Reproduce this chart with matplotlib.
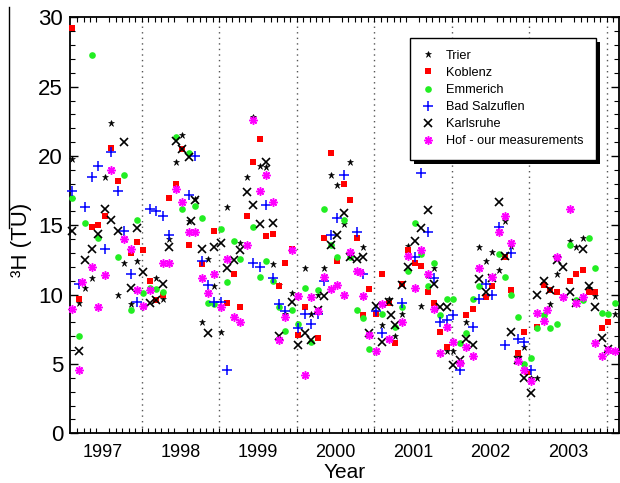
import matplotlib
matplotlib.use("Agg")
import matplotlib.pyplot as plt
import numpy as np
from matplotlib.lines import Line2D
from matplotlib.patches import Rectangle
from matplotlib.transforms import IdentityTransform
from matplotlib.ticker import MultipleLocator, FixedLocator

# ---------------- data (month index: 0 = Jan 1997) ----------------
trier_m = [1, 2, 3, 4, 6, 7, 8, 9, 10, 11,
           14, 15, 16, 17, 18, 19, 20, 21, 22, 23,
           24, 25, 27, 28, 29, 30, 31, 32, 33, 34, 35,
           37, 38, 39, 40, 41, 42, 43, 44, 46,
           49, 50, 51, 52, 53, 55, 56, 57, 59,
           60, 62, 64, 65, 66, 67, 68, 69, 70, 71,
           72, 73, 75, 76, 78, 79, 80, 81, 82, 85]
trier_v = [19.8, 9.4, 10.5, 11.2, 18.5, 22.4, 10.0, 12.3, 9.3, 12.4,
           11.2, 9.7, 14.0, 19.6, 21.5, 15.3, 16.9, 8.0, 12.6, 10.6,
           7.3, 16.3, 13.7, 18.5, 22.8, 19.3, 19.2, 12.2, 10.7, 8.6, 10.1,
           11.9, 8.6, 10.0, 11.9, 18.6, 17.9, 15.1, 19.6, 13.4,
           7.8, 9.7, 7.0, 8.6, 13.5, 9.2, 11.4, 11.9, 5.9,
           5.9, 8.0, 13.4, 12.4, 13.1, 11.8, 15.3, 13.5, 5.5, 6.2,
           4.0, 4.0, 9.3, 11.5, 13.9, 13.4, 14.1, 10.5, 9.9, 8.6]

koblenz_m = [1, 2, 4, 5, 6, 7, 8, 10, 11,
             12, 13, 14, 15, 16, 17, 18, 19, 21, 23,
             25, 26, 27, 28, 29, 30, 31, 32, 33, 34, 35,
             36, 37, 39, 40, 41, 42, 43, 44, 45, 46, 47,
             48, 49, 50, 51, 52, 53, 54, 55, 56, 57, 58, 59,
             62, 63, 65, 66, 68, 69, 70, 71, 71.6,
             73, 74, 75, 76, 78, 79, 80, 81, 82, 83, 84]
koblenz_v = [29.2, 9.7, 14.9, 15.0, 15.7, 20.6, 18.2, 13.0, 13.8,
             13.2, 11.0, 9.6, 10.0, 17.0, 18.0, 20.5, 13.6, 12.2, 14.6,
             9.4, 11.5, 9.1, 15.7, 19.6, 21.2, 14.2, 14.4, 10.6, 12.3, 13.3,
             7.1, 9.1, 6.9, 14.1, 20.2, 12.4, 18.0, 16.8, 14.1, 8.5, 10.4,
             8.6, 11.5, 9.4, 6.5, 10.8, 13.2, 12.3, 12.1, 10.2, 9.4, 7.3, 6.2,
             8.5, 9.0, 9.8, 10.6, 12.7, 10.3, 5.8, 7.3, 4.4,
             7.7, 10.7, 10.3, 10.2, 11.0, 11.5, 11.8, 10.2, 10.2, 7.6, 8.0]

emmerich_m = [1, 2, 3, 4, 5, 8, 9, 10, 11,
              12, 13, 14, 15, 17, 18, 19, 20, 21, 22, 23,
              24, 25, 26, 27, 29, 30, 31, 32, 33, 34, 35,
              36, 37, 38, 39, 40, 41, 42, 43, 44, 45, 46, 47,
              49, 51, 52, 53, 54, 55, 56, 57, 58, 59,
              60, 61, 62, 63, 64, 67, 68, 69, 70, 71,
              72, 73, 74, 75, 76, 78, 79, 80, 81, 82, 83, 84, 85]
emmerich_v = [17.0, 7.0, 15.2, 27.3, 14.1, 12.7, 18.6, 8.9, 15.4,
              10.1, 10.5, 10.4, 10.2, 21.4, 16.2, 20.2, 16.4, 15.5, 9.4, 9.3,
              14.7, 10.9, 13.9, 12.6, 14.9, 11.3, 12.4, 11.0, 9.1, 7.4, 8.9,
              7.9, 10.5, 6.6, 10.3, 16.2, 13.6, 12.7, 15.4, 12.7, 8.9, 8.3, 6.1,
              8.6, 7.7, 9.1, 11.7, 15.2, 12.9, 10.6, 12.3, 8.5, 9.7,
              9.7, 6.5, 7.2, 9.7, 10.6, 12.9, 11.3, 10.0, 8.4, 5.0,
              5.4, 7.6, 8.5, 7.6, 7.9, 13.6, 9.6, 9.6, 14.1, 11.9, 8.7, 8.6, 9.4]

salzuflen_m = [1, 2, 3, 4, 5, 6, 7, 8, 9, 10, 11,
               13, 14, 15, 16, 19, 20, 21, 22, 23,
               24, 25, 29, 30, 31, 32, 33, 34,
               36, 37, 38, 39, 40, 41, 42, 43, 45, 46,
               48, 49, 52, 54, 55, 56, 57, 58, 59,
               60, 61, 63, 64, 65, 66, 67, 68, 69, 70, 71,
               72]
salzuflen_v = [17.5, 10.8, 16.3, 18.5, 19.3, 13.3, 20.3, 17.5, 14.6, 11.5, 9.5,
               16.2, 16.0, 15.7, 14.3, 17.2, 20.0, 12.4, 10.7, 9.5,
               9.5, 4.6, 12.3, 12.0, 16.5, 11.2, 9.3, 8.8,
               7.6, 8.6, 7.9, 8.6, 11.0, 14.3, 15.5, 18.6, 14.5, 11.5,
               8.8, 7.2, 9.4, 12.7, 18.8, 14.5, 11.2, 8.0, 8.2,
               8.5, 4.6, 7.7, 9.7, 10.8, 10.0, 14.9, 6.4, 13.0, 6.8, 6.6,
               4.6]

karlsruhe_m = [1, 2, 3, 4, 5, 6, 7, 8, 9, 10, 11,
               12, 13, 14, 15, 16, 17, 18, 19, 19.4, 20, 21, 22, 23,
               24, 25, 26, 27, 28, 29, 30, 31, 32, 33, 35,
               36, 37, 38, 39, 40, 41, 42, 43, 44, 45, 46, 47,
               48, 49, 50, 50.4, 51, 52, 53, 54, 55, 56, 57, 58, 59,
               60, 61, 62, 63, 64, 65, 66, 67, 68, 69, 70, 71,
               72, 73, 74, 75, 76, 77, 78, 79, 80, 81, 82, 83, 84]
karlsruhe_v = [14.6, 5.9, 12.5, 13.3, 14.4, 16.2, 15.4, 14.6, 21.0, 10.5, 14.8,
               11.6, 9.4, 9.6, 10.8, 13.4, 21.1, 20.5, 19.9, 15.3, 16.8, 13.3, 7.2, 13.4,
               13.7, 11.9, 12.5, 13.2, 17.4, 16.5, 15.1, 19.6, 15.2, 7.0, 9.5,
               6.4, 7.2, 6.7, 8.9, 9.9, 13.6, 14.3, 15.9, 12.7, 12.6, 12.7, 7.2,
               9.2, 6.6, 9.5, 8.5, 7.8, 10.7, 12.0, 13.9, 14.8, 16.1, 10.8, 9.1, 9.1,
               4.9, 5.3, 6.8, 6.4, 11.1, 10.2, 11.2, 16.7, 12.8, 7.3, 5.3, 4.0,
               2.9, 10.0, 11.0, 10.3, 12.5, 12.0, 10.2, 9.4, 13.3, 10.6, 9.1, 6.9, 6.1]

hof_m = [1, 2, 2.5, 4, 5, 6, 7, 9, 10, 11,
         12, 13, 15, 16, 17, 18, 19, 20, 21, 22, 23,
         24, 25, 26, 27, 28, 29, 30, 31, 32, 33, 34, 35,
         36, 37, 38, 39, 40, 41, 42, 43, 44, 45, 45.6, 46, 47,
         48, 49, 50, 52, 53, 54, 55, 56, 57, 58, 59,
         60, 61, 62, 63, 64, 66, 67, 68, 69, 70, 71,
         72, 73, 74, 74.5, 76, 77, 78, 79, 80, 82, 83, 84, 85]
hof_v = [9.0, 4.6, 10.9, 12.0, 9.1, 11.4, 19.0, 14.0, 13.3, 10.3,
         9.2, 10.3, 12.3, 12.3, 17.6, 16.7, 14.5, 14.5, 11.2, 10.1, 11.5,
         9.1, 12.6, 8.4, 8.0, 13.6, 22.6, 17.5, 18.6, 16.7, 6.7, 8.4, 13.2,
         9.9, 4.2, 9.8, 8.8, 11.3, 10.4, 10.7, 10.0, 13.1, 11.7, 11.6, 9.9, 7.1,
         5.9, 9.3, 6.8, 8.0, 12.8, 10.5, 13.2, 11.5, 9.0, 5.8, 7.7,
         6.6, 5.1, 6.2, 5.6, 11.9, 11.3, 14.5, 15.7, 13.7, 5.2, 4.6,
         3.8, 8.7, 8.1, 8.9, 12.7, 9.8, 16.2, 9.4, 9.8, 6.5, 5.6, 6.0, 5.9]

series_names = ["Trier", "Koblenz", "Emmerich", "Bad Salzuflen", "Karlsruhe",
                "Hof - our measurements"]
year_labels = ["1997", "1998", "1999", "2000", "2001", "2002", "2003"]
start_year = 1997

plt.rcParams["font.family"] = ["Liberation Sans", "DejaVu Sans"]

def to_year(months):
    return start_year + (np.asarray(months, dtype=float) + 0.27) / 12.0

fig = plt.figure(figsize=(6.2, 4.83), dpi=100)
ax = fig.add_axes([70 / 620, 1 - 433.3 / 483, 549 / 620, 416 / 483])

styles = [
    dict(marker="*", color="black", ms=5.0, mew=0.4),
    dict(marker="s", color="#ff0000", ms=4.2, mew=0),
    dict(marker="o", color="#22ee22", ms=4.8, mew=0),
    dict(marker="+", color="#0000ff", ms=6.5, mew=1.1),
    dict(marker="x", color="black", ms=5.5, mew=1.2),
    dict(marker=(8, 2, 0), color="#ff00ff", ms=6.0, mew=1.1),
]
data = [(trier_m, trier_v), (koblenz_m, koblenz_v), (emmerich_m, emmerich_v),
        (salzuflen_m, salzuflen_v), (karlsruhe_m, karlsruhe_v), (hof_m, hof_v)]

handles = []
for name, (m, v), st in zip(series_names, data, styles):
    h, = ax.plot(to_year(m), v, linestyle="none", label=name, clip_on=False,
                 zorder=3, **st)
    handles.append(h)

ax.set_xlim(1997.075, 2004.16)
ax.set_ylim(0, 30)

# year separators
for yr in range(1998, 2005):
    ax.axvline(yr, color="#555555", lw=1.0, ls=(0, (1, 3)), zorder=1)

# x ticks: labels at year centres, monthly minor ticks
centers = [start_year + i + 0.5 for i in range(len(year_labels))]
ax.xaxis.set_major_locator(FixedLocator(centers))
ax.set_xticklabels(year_labels)
ax.xaxis.set_minor_locator(FixedLocator(np.arange(1997 + 2 / 12, 2004.16, 1 / 12)))
ax.tick_params(axis="x", which="major", length=0, labelsize=13, pad=8)
ax.tick_params(axis="x", which="minor", direction="in", length=3.5, width=0.8,
               top=True, bottom=True)

# y ticks
ax.yaxis.set_major_locator(MultipleLocator(5))
ax.yaxis.set_minor_locator(MultipleLocator(1))
ax.tick_params(axis="y", which="major", direction="in", length=6, width=1.0,
               left=True, right=True, labelsize=16, pad=5)
ax.tick_params(axis="y", which="minor", direction="in", length=3.5, width=0.8,
               left=True, right=True)

for sp in ax.spines.values():
    sp.set_linewidth(1.3)

ax.set_xlabel("Year", fontsize=15, labelpad=1)
fig.text(22 / 620, 1 - 240 / 483, "\u00b3H (TU)", rotation=90, fontsize=16,
         ha="center", va="center")
fig.add_artist(Line2D([9.3 / 620, 9.3 / 620], [1 - 7 / 483, 1 - 228 / 483],
                      color="black", lw=1.0, transform=fig.transFigure))

leg = ax.legend(handles=handles, loc="upper left",
                bbox_to_anchor=(0.619, 0.951), borderaxespad=0,
                fontsize=9.2, frameon=True, fancybox=False,
                edgecolor="black", framealpha=1, borderpad=0.95,
                handlelength=1.0, handletextpad=0.9, labelspacing=0.4,
                numpoints=1)
leg.get_frame().set_linewidth(1.0)
leg.set_zorder(6)

fig.canvas.draw()
bb = leg.get_frame().get_window_extent()
shadow = Rectangle((bb.x0 + 4, bb.y0 - 4), bb.width, bb.height,
                   transform=IdentityTransform(), facecolor="black",
                   edgecolor="none", zorder=5.5, clip_on=False)
ax.add_artist(shadow)

fig.savefig("out.png", dpi=100)
